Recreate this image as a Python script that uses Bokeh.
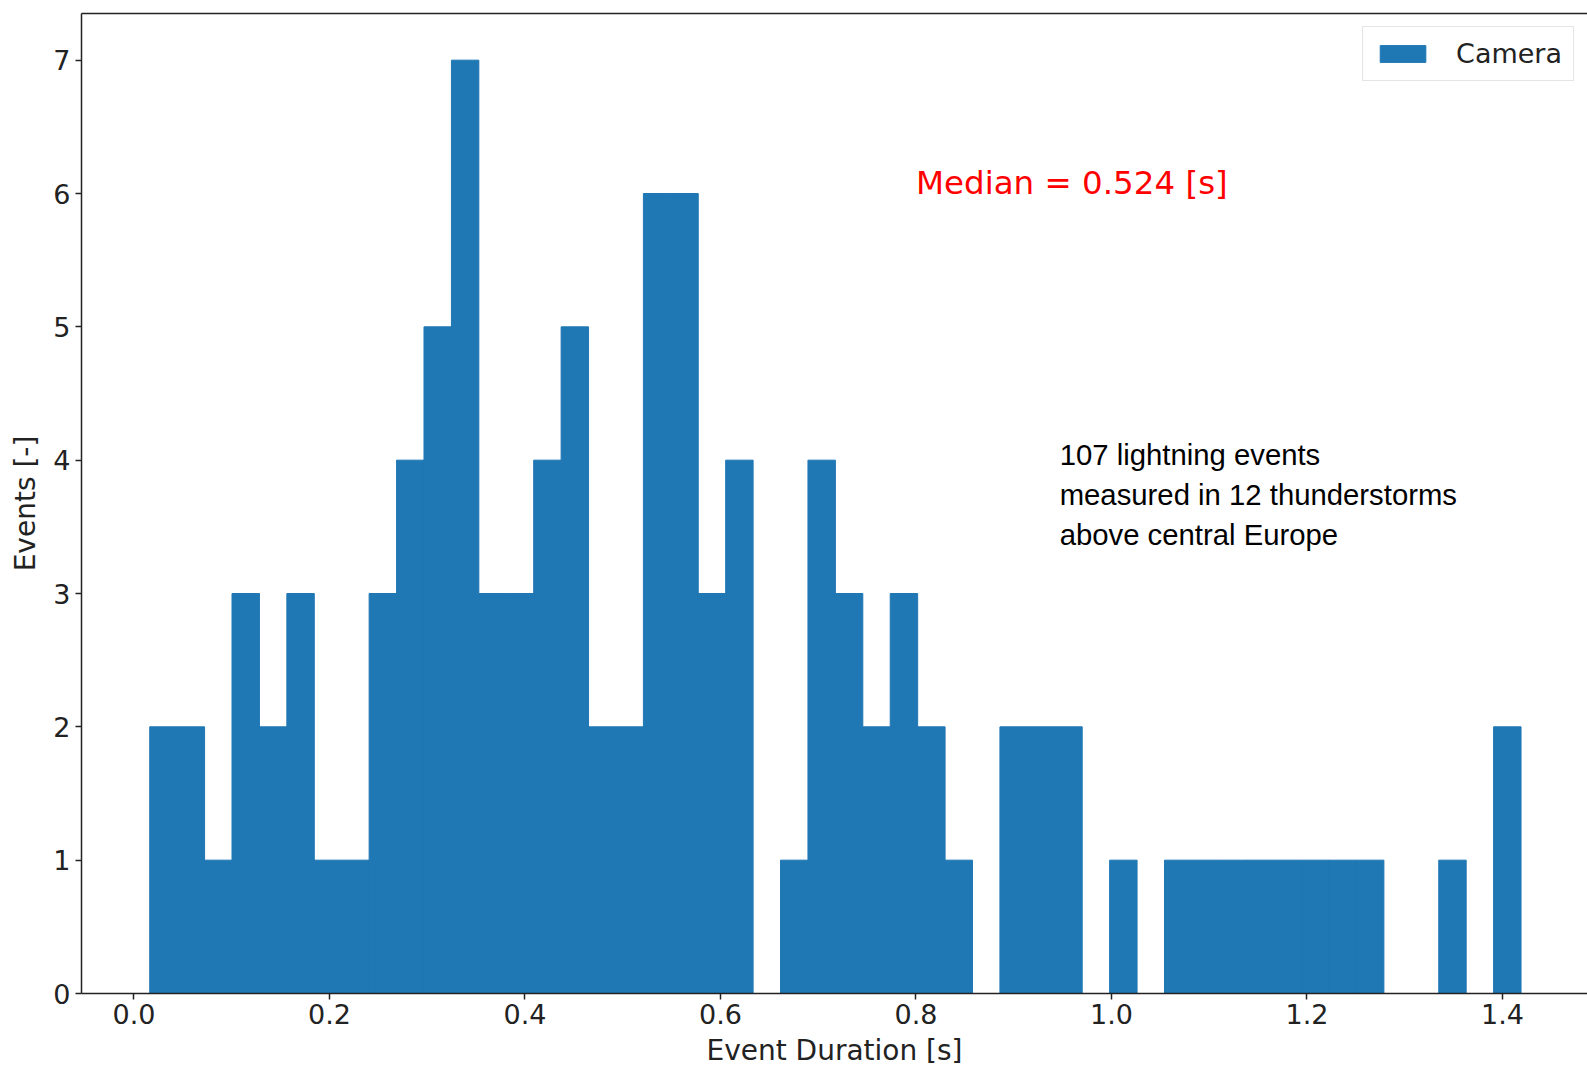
import numpy as np
from bokeh.plotting import figure
from bokeh.models import (Range1d, FixedTicker, NumeralTickFormatter, LinearAxis,
                          Label, Legend, LegendItem)
from bokeh.embed import file_html
from bokeh.resources import INLINE

# ---- data -------------------------------------------------------------
bin_min = 0.0161
bin_max = 1.4190
n_bins = 50
counts = [2, 2, 1, 3, 2, 3, 1, 1, 3, 4,
          5, 7, 3, 3, 4, 5, 2, 2, 6, 6,
          3, 4, 0, 1, 4, 3, 2, 3, 2, 1,
          0, 2, 2, 2, 0, 1, 0, 1, 1, 1,
          1, 1, 1, 1, 1, 0, 0, 1, 0, 2]
x_ticks = [0.0, 0.2, 0.4, 0.6, 0.8, 1.0, 1.2, 1.4]
y_ticks = [0, 1, 2, 3, 4, 5, 6, 7]
median_text = "Median = 0.524 [s]"
note_lines = ["107 lightning events",
              "measured in 12 thunderstorms",
              "above central Europe"]
series_name = "Camera"

edges = np.linspace(bin_min, bin_max, n_bins + 1)

BLUE = "#1f77b4"
AX = "#222222"
FONT = "DejaVu Sans"

p = figure(width=1587, height=1070, output_backend="svg", toolbar_location=None,
           x_range=Range1d(-0.0537, 1.487), y_range=Range1d(0, 7.35),
           min_border_left=81, min_border_right=0, min_border_top=13,
           min_border_bottom=77, background_fill_color="white",
           border_fill_color="white")
p.outline_line_color = None
p.grid.grid_line_color = None

r = p.quad(left=edges[:-1], right=edges[1:], bottom=0, top=counts,
           fill_color=BLUE, line_color=BLUE, line_width=1.0)

# axes styling
for ax in (p.xaxis[0], p.yaxis[0]):
    ax.axis_line_color = AX
    ax.axis_line_width = 1.5
    ax.major_tick_line_color = AX
    ax.major_tick_line_width = 1.5
    ax.major_tick_out = 6
    ax.major_tick_in = 0
    ax.minor_tick_line_color = None
    ax.major_label_text_font = FONT
    ax.major_label_text_font_size = "27px"
    ax.major_label_text_color = AX
    ax.axis_label_text_font = FONT
    ax.axis_label_text_font_size = "28px"
    ax.axis_label_text_font_style = "normal"
    ax.axis_label_text_color = AX

p.xaxis.ticker = FixedTicker(ticks=x_ticks)
p.xaxis.formatter = NumeralTickFormatter(format="0.0")
p.xaxis.axis_label = "Event Duration [s]"
p.xaxis.major_label_standoff = 4
p.xaxis.axis_label_standoff = 7

p.yaxis.ticker = FixedTicker(ticks=y_ticks)
p.yaxis.axis_label = "Events [-]"
p.yaxis.major_label_standoff = 5
p.yaxis.axis_label_standoff = 8

# top spine only (reference crops off the right spine)
top = LinearAxis(ticker=FixedTicker(ticks=[]), major_label_text_font_size="0px",
                 major_tick_line_color=None, minor_tick_line_color=None,
                 axis_line_color=AX, axis_line_width=1.5)
p.add_layout(top, "above")

# annotations
p.add_layout(Label(x=0.8, y=6.08, text=median_text, text_color="red",
                   text_font=FONT, text_font_size="32.5px",
                   text_baseline="alphabetic"))
for i, line in enumerate(note_lines):
    p.add_layout(Label(x=0.947, y=4.045 - 0.3 * i, text=line, text_color="black",
                       text_font="Liberation Sans", text_font_size="29.3px",
                       text_baseline="alphabetic"))

legend = Legend(items=[LegendItem(label=series_name, renderers=[r])],
                location="top_right")
legend.label_text_font = FONT
legend.label_text_font_size = "27px"
legend.label_text_color = AX
legend.glyph_width = 57
legend.glyph_height = 21
legend.label_standoff = 25
legend.label_height = 25
legend.padding = 11
legend.margin = 13
legend.border_line_color = "#cccccc"
legend.border_line_width = 1.5
legend.background_fill_alpha = 1.0
p.add_layout(legend, "center")

open("out.html", "w").write(file_html(p, INLINE))
